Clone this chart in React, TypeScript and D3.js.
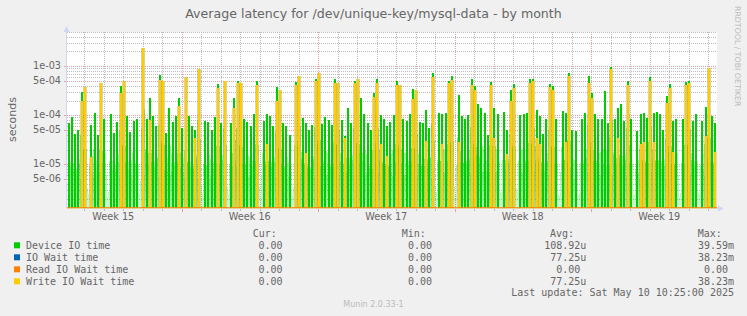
import React from 'react';
import * as d3 from 'd3';

const W = 747, H = 316;
const PL = 67, PR = 717, PT = 32, PB = 208;

const tStart = new Date(2025, 3, 7, 3, 0, 0);
const tEnd = new Date(2025, 4, 10, 11, 0, 0);
const STEP_MS = 4 * 3600 * 1000;
const Y_MIN = 1.28e-6, Y_MAX = 5e-3;

const titleText = 'Average latency for /dev/unique-key/mysql-data - by month';
const yAxisLabel = 'seconds';
const yTickValues = [1e-3, 5e-4, 1e-4, 5e-5, 1e-5, 5e-6];
const yTickLabels = ['1e-03', '5e-04', '1e-04', '5e-05', '1e-05', '5e-06'];

const seriesNames = ['Device IO time', 'IO Wait time', 'Read IO Wait time', 'Write IO Wait time'];
const seriesColors = ['#00CC00', '#0066B3', '#FF8000', '#FFCC00'];
const curValues = ['0.00', '0.00', '0.00', '0.00'];
const minValues = ['0.00', '0.00', '0.00', '0.00'];
const avgValues = ['108.92u', '77.25u', '0.00', '77.25u'];
const maxValues = ['39.59m', '38.23m', '0.00', '38.23m'];
const lastUpdate = 'Last update: Sat May 10 10:25:00 2025';

// Device IO time, 4-hour bins
const deviceA = [6.9e-5, 9.1e-5, 4.2e-5, 5.0e-5, 3.0e-4, 3.2e-4, 0, 6.3e-5, 1.1e-4, 4e-5,
  2.9e-4, 8.3e-5, 0, 1.04e-4, 4.4e-5, 7.4e-5, 4.0e-4, 4.6e-4, 9.7e-5, 4.6e-5,
  7.6e-5, 8.3e-5, 0, 2.2e-3, 8.3e-5, 2.2e-4, 9.7e-5, 5.9e-5, 6.6e-4, 4.9e-4,
  4.4e-5, 1.4e-4, 7.4e-5, 9.7e-5, 2.2e-4, 5.4e-5, 1.0e-4, 9.7e-5, 5.9e-5, 5.0e-5];
const deviceB = [8.7e-4, 0, 7.7e-5, 7.4e-5, 4.9e-5, 9.1e-5, 4.3e-4, 7.0e-5, 4.9e-4, 0,
  7.0e-5, 2.2e-4, 5.1e-4, 4.0e-4, 8.3e-5, 7.2e-5, 5.9e-5, 1.05e-4, 4.9e-4, 0,
  7.6e-5, 1.04e-4, 9.7e-5, 5.9e-5, 3.7e-4, 3.2e-4, 7.0e-5, 5.9e-5, 4.0e-5, 0,
  4.8e-4, 6.4e-4, 8.7e-5, 7.0e-5, 5.1e-5, 6.3e-5, 5.4e-4, 7.4e-4, 6.6e-5, 9.4e-5];
const deviceC = [8.0e-5, 6.3e-5, 5.4e-4, 4.6e-4, 8.0e-5, 3.7e-5, 1.4e-4, 6.9e-5, 5.1e-4, 5.4e-4,
  2.2e-4, 1.05e-4, 7.0e-5, 5.1e-5, 2.8e-4, 5.4e-4, 9.9e-5, 8.3e-5, 6.0e-5, 7.4e-5,
  9.9e-5, 4.9e-4, 3.5e-4, 8.3e-5, 7.7e-5, 1.05e-4, 3.4e-4, 3.3e-4, 7.4e-5, 6.9e-5,
  1.3e-4, 5.4e-5, 7.2e-4, 0, 1.1e-4, 1.05e-4, 1.1e-4, 4.9e-4, 6.2e-4, 0];
const deviceD = [2.6e-4, 9.7e-5, 8.3e-5, 9.9e-5, 5.5e-4, 3.9e-4, 1.7e-4, 1.4e-4, 1.1e-4, 4e-5,
  4.8e-4, 1.4e-4, 1.05e-4, 0, 1.15e-4, 5e-5, 3.3e-4, 4.3e-4, 0, 9.9e-5,
  1.05e-4, 1.1e-4, 5.4e-4, 5.4e-4, 1.3e-4, 9.7e-5, 4.2e-5, 8.3e-5, 4.4e-4, 3.9e-4,
  8.3e-5, 0, 1.2e-4, 1.1e-4, 7.2e-4, 5.1e-5, 4.7e-5, 0, 8.3e-5, 1.1e-4];
const deviceE = [6.4e-4, 2.9e-4, 1.05e-4, 8.3e-5, 8.3e-5, 3.1e-4, 6.9e-5, 9.5e-4, 8.3e-5, 1.4e-4,
  1.7e-4, 7.6e-5, 4.9e-4, 8.3e-5, 0, 4.7e-5, 1.05e-4, 1.1e-4, 8.7e-5, 6.1e-4,
  1.1e-4, 1.15e-4, 1.05e-4, 5e-5, 2.5e-4, 4.3e-4, 7.6e-5, 8.3e-5, 0, 8.3e-5,
  4.8e-4, 5.0e-4, 7.6e-5, 1.05e-4, 0, 7.6e-5, 1.5e-4, 9.0e-4, 9.7e-5, 6.9e-5];

// Write IO wait time (IO wait time has the same values)
const writeA = [0, 0, 0, 0, 2.0e-4, 3.7e-4, 0, 1.4e-5, 0, 0,
  4.6e-4, 0, 0, 0, 0, 0, 2.8e-4, 5.0e-4, 0, 0,
  0, 0, 0, 2.4e-3, 0, 7.9e-5, 0, 0, 5.3e-4, 4.9e-4,
  0, 0, 0, 0, 1.55e-4, 0, 6.0e-4, 0, 0, 3.4e-5];
const writeB = [8.7e-4, 0, 0, 0, 0, 0, 3.6e-4, 0, 4.9e-4, 0,
  0, 1.4e-4, 4.6e-4, 4.5e-4, 0, 0, 0, 0, 4.2e-4, 0,
  0, 2.6e-5, 0, 0, 2.0e-4, 3.2e-4, 0, 0, 0, 0,
  4.2e-4, 6.4e-4, 0, 1.7e-5, 0, 0, 4.9e-4, 7.4e-4, 0, 0];
const writeC = [0, 0, 4.6e-4, 4.6e-4, 0, 3.5e-5, 0, 0, 4.6e-4, 5.4e-4,
  0, 0, 0, 0, 2.4e-4, 4.6e-4, 2.6e-5, 0, 1.5e-5, 0,
  0, 4.2e-4, 4.2e-4, 0, 0, 0, 2.1e-4, 3.3e-4, 0, 0,
  3.0e-5, 0, 6.0e-4, 0, 0, 2.6e-5, 0, 4.6e-4, 5.3e-4, 0];
const writeD = [2.9e-5, 0, 0, 0, 4.2e-4, 3.3e-4, 0, 0, 0, 0,
  4.2e-4, 3.4e-5, 0, 0, 0, 1.6e-5, 2.0e-4, 3.6e-4, 0, 0,
  0, 0, 4.6e-4, 4.9e-4, 3.4e-5, 2.6e-5, 0, 0, 3.7e-4, 3.3e-4,
  0, 0, 0, 2.9e-5, 6.2e-4, 0, 0, 0, 0, 0];
const writeE = [4.6e-4, 2.3e-4, 0, 0, 0, 0, 0, 8.7e-4, 0, 3.5e-5,
  0, 0, 4.2e-4, 0, 0, 0, 2.6e-5, 2.9e-5, 0, 5.1e-4,
  2.9e-5, 0, 0, 0, 1.8e-4, 3.6e-4, 1.8e-5, 0, 0, 0,
  4.2e-4, 4.6e-4, 0, 0, 0, 0, 3.7e-5, 9.0e-4, 0, 1.8e-5];

const deviceIO = [...deviceA, ...deviceB, ...deviceC, ...deviceD, ...deviceE];
const writeIO = [...writeA, ...writeB, ...writeC, ...writeD, ...writeE];
const ioWait = writeIO;

const FONT = '"DejaVu Sans", sans-serif';
const MONO = '"DejaVu Sans Mono", monospace';
const TXT = '#666666';
const AXIS = '#CFD6F8';
const GRID = '#bcbcbc';
const MGRID = '#eea0a0';
const CH = 6.02;

export default function App() {
  const xs = d3.scaleTime().domain([tStart, tEnd]).range([PL, PR]);
  const ys = d3.scaleLog().domain([Y_MIN, Y_MAX]).range([PB, PT]).clamp(true);
  const binTime = (i: number) => new Date(tStart.getTime() + (i + 0.5) * STEP_MS);
  const bx = (i: number) => Math.round(xs(binTime(i)));
  const yv = (v: number) => (v > 0 ? ys(v) : PB);

  // translucent "fan" triangles between consecutive samples
  const fan = (vals: number[], dir: number) => {
    const p = d3.path();
    for (let i = 0; i < vals.length - 1; i++) {
      const a = dir > 0 ? i : i + 1;
      const b = dir > 0 ? i + 1 : i;
      if (vals[a] <= 0) continue;
      p.moveTo(bx(a), yv(vals[a]));
      p.lineTo(bx(a), PB);
      p.lineTo(bx(b), PB);
      p.closePath();
    }
    return p.toString();
  };

  const days = d3.timeDay.range(d3.timeDay.ceil(tStart), tEnd);
  const sundays = d3.timeSunday.range(d3.timeSunday.floor(tStart), tEnd);
  const weekLines = sundays.filter((d) => d > tStart);
  const weekFmt = d3.timeFormat('%V');
  const weekLabels = sundays
    .map((s) => new Date(s.getTime() + 3.5 * 86400000))
    .filter((c) => c > tStart && c < tEnd);

  const minorY: number[] = [];
  for (let e = -7; e <= -2; e++) {
    for (let k = 1; k <= 9; k++) {
      const v = +(k + 'e' + e);
      if (v >= Y_MIN && v <= Y_MAX && !yTickValues.some((t) => Math.abs(t - v) / v < 1e-6)) minorY.push(v);
    }
  }
  const px = (v: number) => Math.round(v) + 0.5;

  const bars = (vals: number[], color: string, key: string, w: number, off: number, op = 1) =>
    vals.map((v, i) =>
      v > 0 ? (
        <rect key={key + i} x={bx(i) + off} y={yv(v)} width={w} height={PB - yv(v)} fill={color} fillOpacity={op} />
      ) : null
    );

  const rowBase = [248.5, 260.5, 272.5, 284.5];
  const valText = (s: string, right: number, y: number, k: string) => {
    const hasUnit = /[a-zA-Z]$/.test(s);
    return (
      <text key={k} x={hasUnit ? right : right - CH} y={y} textAnchor="end" fontFamily={MONO} fontSize={10} fill={TXT}>
        {s}
      </text>
    );
  };

  return (
    <svg width={W} height={H} style={{ position: 'absolute', left: 0, top: 0, display: 'block' }}>
      <defs>
        <linearGradient id="gGreen" gradientUnits="userSpaceOnUse" x1={0} y1={PT} x2={0} y2={PB}>
          <stop offset="0" stopColor="#1ccc1c" stopOpacity={0.55} />
          <stop offset="0.6" stopColor="#1ccc1c" stopOpacity={0.48} />
          <stop offset="1" stopColor="#1ccc1c" stopOpacity={0.2} />
        </linearGradient>
        <linearGradient id="gOlive" gradientUnits="userSpaceOnUse" x1={0} y1={PT} x2={0} y2={PB}>
          <stop offset="0" stopColor="#a8a030" stopOpacity={0.5} />
          <stop offset="1" stopColor="#a8a030" stopOpacity={0.3} />
        </linearGradient>
      </defs>
      <rect x={0} y={0} width={W} height={H} fill="#F0F0F0" />
      <rect x={PL} y={PT} width={PR - PL} height={PB - PT} fill="#FFFFFF" />

      {/* grid */}
      <g strokeWidth={1} strokeDasharray="1,1" fill="none">
        {minorY.map((v, i) => (
          <line key={'my' + i} x1={PL} x2={PR} y1={px(ys(v))} y2={px(ys(v))} stroke={GRID} />
        ))}
        {days.map((d, i) => (
          <line key={'dx' + i} x1={px(xs(d))} x2={px(xs(d))} y1={PT} y2={PB} stroke={GRID} />
        ))}
        {yTickValues.map((v, i) => (
          <line key={'My' + i} x1={PL} x2={PR} y1={px(ys(v))} y2={px(ys(v))} stroke={MGRID} />
        ))}
        {weekLines.map((d, i) => (
          <line key={'wx' + i} x1={px(xs(d))} x2={px(xs(d))} y1={PT} y2={PB} stroke={MGRID} />
        ))}
      </g>

      {/* data */}
      <g shapeRendering="crispEdges">
        <path d={fan(deviceIO, 1)} fill="url(#gGreen)" />
        <path d={fan(deviceIO, -1)} fill="url(#gGreen)" />
        {bars(deviceIO, seriesColors[0], 'dv', 2, -1)}
        {bars(ioWait, seriesColors[1], 'iw', 1, 0)}
        {bars(writeIO, 'url(#gOlive)', 'ol', 4, -2)}
        {bars(writeIO, seriesColors[3], 'wr', 2, -1)}
      </g>

      {/* axes */}
      <line x1={PL - 0.5} x2={PL - 0.5} y1={PT - 2} y2={PB} stroke={AXIS} />
      <line x1={PL} x2={PR + 2} y1={PB + 0.5} y2={PB + 0.5} stroke={AXIS} />
      <line x1={PL} x2={PR} y1={PB - 0.5} y2={PB - 0.5} stroke={seriesColors[2]} strokeOpacity={0.8} />
      <line x1={PL} x2={PR} y1={PB + 0.5} y2={PB + 0.5} stroke={seriesColors[3]} strokeOpacity={0.4} />
      <path d={`M${PL - 3.5},${PT} L${PL - 0.5},${PT - 6} L${PL + 2.5},${PT} Z`} fill={AXIS} />
      <path d={`M${PR + 1},${PB - 2.5} L${PR + 7},${PB + 0.5} L${PR + 1},${PB + 3.5} Z`} fill={AXIS} />
      {days.map((d, i) => (
        <line key={'tx' + i} x1={px(xs(d))} x2={px(xs(d))} y1={PB + 1} y2={PB + 3} stroke={GRID} />
      ))}
      {weekLines.map((d, i) => (
        <line key={'tw' + i} x1={px(xs(d))} x2={px(xs(d))} y1={PB + 1} y2={PB + 4} stroke={MGRID} />
      ))}
      {yTickValues.map((v, i) => (
        <line key={'ty' + i} x1={PL - 3} x2={PL - 1} y1={px(ys(v))} y2={px(ys(v))} stroke={MGRID} />
      ))}

      {/* tick labels */}
      {yTickValues.map((v, i) => (
        <text key={'yl' + i} x={61} y={ys(v) + 3.2} textAnchor="end" fontFamily={FONT} fontSize={9.7} fill={TXT}>
          {yTickLabels[i]}
        </text>
      ))}
      {weekLabels.map((c, i) => (
        <text key={'xl' + i} x={xs(c)} y={219.5} textAnchor="middle" fontFamily={FONT} fontSize={9.7} fill={TXT}>
          {'Week ' + +weekFmt(c)}
        </text>
      ))}

      {/* titles */}
      <text x={373.5} y={18} textAnchor="middle" fontFamily={FONT} fontSize={12.6} fill={TXT}>
        {titleText}
      </text>
      <text transform="translate(15.5,119.5) rotate(-90)" textAnchor="middle" fontFamily={FONT} fontSize={11} fill={TXT}>
        {yAxisLabel}
      </text>
      <text transform="translate(735,6) rotate(90)" fontFamily={FONT} fontSize={7.8} fill="#bbbbbb">
        RRDTOOL / TOBI OETIKER
      </text>

      {/* legend */}
      <g fontFamily={MONO} fontSize={10} fill={TXT}>
        <text x={252.7} y={236.7}>Cur:</text>
        <text x={401.7} y={236.7}>Min:</text>
        <text x={550} y={236.7}>Avg:</text>
        <text x={697.7} y={236.7}>Max:</text>
      </g>
      {seriesNames.map((n, i) => (
        <g key={'lg' + i}>
          <rect x={14} y={rowBase[i] - 6.2} width={6} height={6} fill={seriesColors[i]} />
          <text x={26} y={rowBase[i]} fontFamily={MONO} fontSize={10} fill={TXT} style={{ whiteSpace: 'pre' }}>
            {n}
          </text>
          {valText(curValues[i], 288.5, rowBase[i], 'c' + i)}
          {valText(minValues[i], 438, rowBase[i], 'm' + i)}
          {valText(avgValues[i], 586.3, rowBase[i], 'a' + i)}
          {valText(maxValues[i], 734, rowBase[i], 'x' + i)}
        </g>
      ))}
      <text x={734} y={296} textAnchor="end" fontFamily={MONO} fontSize={10} fill={TXT} style={{ whiteSpace: 'pre' }}>
        {lastUpdate}
      </text>
      <text x={373.5} y={307.3} textAnchor="middle" fontFamily={FONT} fontSize={8} fill="#bbbbbb">
        Munin 2.0.33-1
      </text>
    </svg>
  );
}
